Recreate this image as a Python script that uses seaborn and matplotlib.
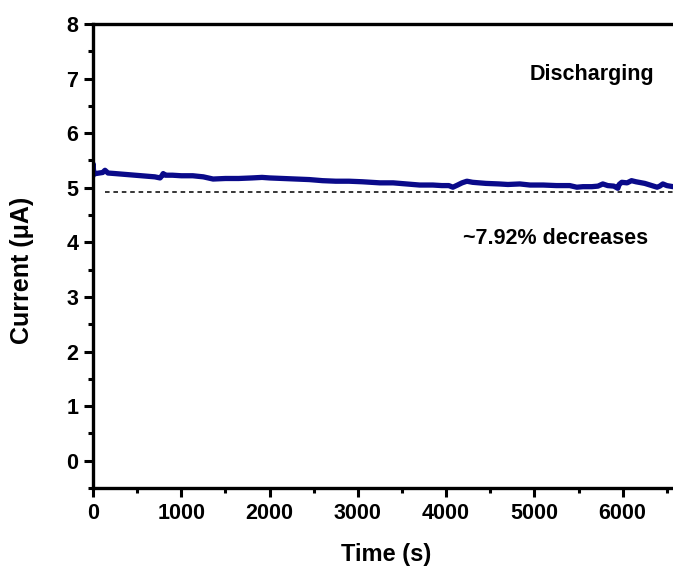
import matplotlib
matplotlib.use("Agg")
import matplotlib.pyplot as plt
from matplotlib.ticker import MultipleLocator
import seaborn as sns
import pandas as pd

time_s = [0, 0, 8, 30, 70, 110, 136, 170, 250, 400, 550, 700, 760, 780, 795,
          820, 900, 1000, 1130, 1250, 1360, 1500, 1650, 1800, 1915, 2000, 2150,
          2300, 2450, 2600, 2750, 2900, 3050, 3250, 3400, 3550, 3700, 3850,
          3950, 4030, 4077, 4130, 4180, 4235, 4300, 4450, 4600, 4700, 4835,
          4950, 5100, 5250, 5400, 5480, 5550, 5650, 5720, 5775, 5830, 5900,
          5945, 5960, 5990, 6050, 6100, 6150, 6250, 6390, 6420, 6455, 6500,
          6535, 6570]
current_uA = [5.22, 5.44, 5.28, 5.26, 5.27, 5.28, 5.32, 5.27, 5.26, 5.24, 5.22,
              5.20, 5.18, 5.22, 5.26, 5.23, 5.23, 5.22, 5.22, 5.20, 5.16, 5.17,
              5.17, 5.18, 5.19, 5.18, 5.17, 5.16, 5.15, 5.13, 5.12, 5.12, 5.11,
              5.09, 5.09, 5.07, 5.05, 5.05, 5.04, 5.04, 5.01, 5.05, 5.09, 5.12,
              5.10, 5.08, 5.07, 5.06, 5.07, 5.05, 5.05, 5.04, 5.04, 5.01, 5.02,
              5.02, 5.03, 5.07, 5.04, 5.03, 4.99, 5.06, 5.10, 5.09, 5.13, 5.11,
              5.08, 5.01, 5.03, 5.07, 5.04, 5.03, 5.02]

baseline_level = 4.93
baseline_start = 136

x_ticks = [0, 1000, 2000, 3000, 4000, 5000, 6000]
y_ticks = [0, 1, 2, 3, 4, 5, 6, 7, 8]

sns.set_style("ticks")
plt.rcParams['font.family'] = ['Liberation Sans', 'DejaVu Sans']
plt.rcParams['font.weight'] = 'bold'
plt.rcParams['text.color'] = 'black'
plt.rcParams['axes.labelcolor'] = 'black'
plt.rcParams['xtick.color'] = 'black'
plt.rcParams['ytick.color'] = 'black'

fig = plt.figure(figsize=(6.73, 5.70), dpi=100)
ax = fig.add_axes([93 / 673, 82 / 570, 580 / 673, 464 / 570])

df = pd.DataFrame({"Time (s)": time_s, "Current (μA)": current_uA})
sns.lineplot(data=df, x="Time (s)", y="Current (μA)", sort=False, estimator=None,
             color="#0a0a8a", linewidth=3.8, ax=ax)

ax.plot([baseline_start, 6570], [baseline_level, baseline_level],
        linestyle=(0, (3, 2.5)), color="black", linewidth=1.1)

ax.set_xlim(0, 6570)
ax.set_ylim(-0.5, 8)
ax.set_xticks(x_ticks)
ax.set_yticks(y_ticks)
ax.xaxis.set_minor_locator(MultipleLocator(500))
ax.yaxis.set_minor_locator(MultipleLocator(0.5))
ax.tick_params(axis="both", which="major", direction="out", length=6.5, width=2.2,
               labelsize=15.5, colors="black")
ax.tick_params(axis="x", which="major", pad=4.5)
ax.tick_params(axis="y", which="major", pad=4)
ax.tick_params(axis="both", which="minor", direction="out", length=3.5, width=2.2)
for lab in ax.get_xticklabels() + ax.get_yticklabels():
    lab.set_fontweight("bold")

for side in ["left", "bottom", "top"]:
    ax.spines[side].set_linewidth(2.4)
    ax.spines[side].set_color("black")
ax.spines["right"].set_visible(False)

ax.set_xlabel("Time (s)", fontsize=17, fontweight="bold", va="center")
ax.xaxis.set_label_coords(0.505, -0.144)
ax.set_ylabel("Current (μA)", fontsize=18, fontweight="bold", va="center")
ax.yaxis.set_label_coords(-0.122, 0.468)

ax.text(0.86, 0.892, "Discharging", transform=ax.transAxes, ha="center",
        va="center", fontsize=15.5, fontweight="bold")
ax.text(0.798, 0.537, "~7.92% decreases", transform=ax.transAxes, ha="center",
        va="center", fontsize=15.5, fontweight="bold")

fig.savefig("out.png", dpi=100)
